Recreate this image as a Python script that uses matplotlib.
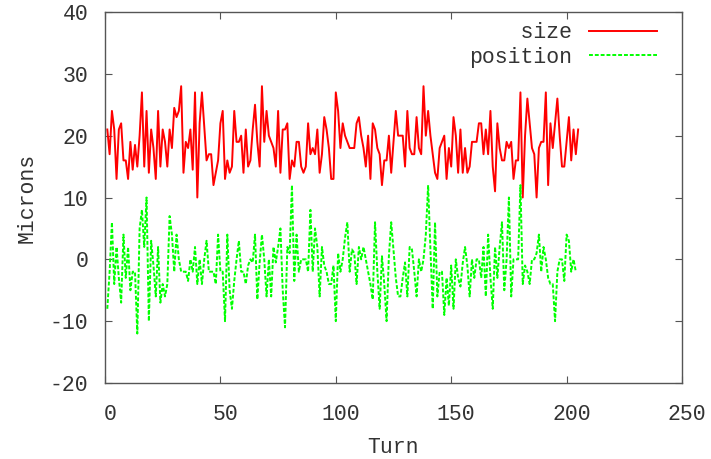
import numpy as np
import matplotlib
matplotlib.use("Agg")
import matplotlib.pyplot as plt
import matplotlib.transforms as mtransforms

# Data (one value per turn)

size_vals = [
    21, 17, 24, 21, 13, 21, 22, 16, 16, 13, 19, 14.5, 18.5, 15, 20, 27, 15, 24, 14, 21,
    18, 13, 24, 15, 21, 19, 15, 21, 18, 24.5, 23, 24, 28, 14, 19, 18, 21, 14.5, 27, 10,
    22, 27, 21.5, 16, 17, 17, 12, 14, 16, 22, 24, 13, 16, 14, 15, 24, 19, 19, 20, 14,
    21, 15, 16, 21, 25, 19, 15, 28, 19, 24, 20, 19, 18, 15, 24, 14, 21, 21, 22, 13,
    16, 15, 19, 19, 15, 14, 15, 22, 17, 18, 17, 21, 14, 17, 23, 21, 18, 13, 13, 27,
    24, 18, 22, 20, 19, 18, 18, 18, 22, 23, 20, 18, 15, 20, 13, 22, 21, 18, 17, 12,
    16, 16, 20, 14, 19, 24, 20, 20, 20, 15, 24, 18, 17, 17, 23, 18, 17, 28, 20, 24,
    20, 17, 14, 13, 18, 19, 20, 13, 18, 15, 23, 20, 14, 21, 14, 18, 14, 15, 19, 19,
    19, 22, 22, 17, 21, 17, 24, 15, 11, 22, 18, 16, 16, 19, 18, 19, 13, 16, 16, 27,
    10, 20, 26, 22, 18, 17, 10, 18, 19, 19, 27, 12, 22, 18, 22, 26, 20, 15, 15, 19,
    23, 16, 21, 17, 21,
]

position_vals = [
    -8, -2, 6, -4, 2, -3, -7, 4, -3, 2, -5, -2, -2, -12, 5, 8, 2, 10, -10, 3,
    -1, -6, 2, -7, -4, -6, -4, 7, 4, -2, 4, 0, -2, -2, -2, -3.5, 0, -2, 2, -4,
    0, -4, 0, 3, -2, -2, -2, -4, 4, -2, -2, -10, 4, -5, -8, -3.5, 0, 3, -2, -2,
    -4, -1, 0, -0.5, 4, -6.5, -0.5, 4, 0, -6, 0, -6, 2, -0.5, 2, 5, -5, -11, 2, 1,
    12, -3.5, 4, -2, 0, 0, 0, -2, 8, -2, 5, 2, -6, 2, -1, -2, -4, -4, -1, -10,
    1, -2, 0, 3.5, 6, -2, 1.6, 1, -4, 2, 0, 2, 0, -2, -4, -6.5, 6, -2, -8, 0.5,
    -4, -10, 0.5, 6, 1.6, -3, -6, -6, -3, -0.5, -6, 2, 1.6, -2, -6, 0, -2, 0, 4, 12,
    1.6, -8, 6, -6, -2, -2, -9, -3, -7.5, -1, -8, 0, -3, -4.4, -0.6, 2, -1, -6, 0, -3,
    0, 0, -3, 2, -6, 4, -3, -8, 2, -3, 2, 6, -5, 0, 10, -6, 0, 0, 0, 12,
    -4, -1, -2, -4, 0, 0, 1, 4, -2, 2, 0, -3, -4, -4, -10, -2, 0, 0, -3.5, 4,
    3, -2, 0, -2,
]

size_turns = np.arange(1, len(size_vals) + 1)
position_turns = np.arange(1, len(position_vals) + 1)

x_ticks = [0, 50, 100, 150, 200, 250]
y_ticks = [-20, -10, 0, 10, 20, 30, 40]

# Plot (gnuplot look)

FONT = "Liberation Mono"
FS = 15.5
TEXT_COLOR = "#333333"
FRAME_COLOR = "#555555"

plt.rcParams["axes.unicode_minus"] = False

fig = plt.figure(figsize=(7.11, 4.59), dpi=100)
ax = fig.add_axes([105 / 711, 1 - 383 / 459, 577 / 711, 371 / 459])

ax.plot(size_turns, size_vals, color="#ff0000", lw=1.4, label="    size")
ax.plot(position_turns, position_vals, color="#00ff00", lw=1.4,
        dashes=(2, 1), label="position")

ax.set_xlim(0, 250)
ax.set_ylim(-20, 40)
ax.set_xticks(x_ticks)
ax.set_yticks(y_ticks)

for side in ax.spines.values():
    side.set_color(FRAME_COLOR)
    side.set_linewidth(1.0)

ax.tick_params(direction="in", length=5, width=0.8, color=FRAME_COLOR,
               top=True, right=True, labelsize=FS, labelcolor=TEXT_COLOR)
ax.tick_params(axis="x", pad=15)
ax.tick_params(axis="y", pad=12)
for lbl in ax.get_xticklabels() + ax.get_yticklabels():
    lbl.set_fontfamily(FONT)

# gnuplot puts x tick labels a bit to the right of the tick
shift = mtransforms.ScaledTranslation(5 / 100, 0, fig.dpi_scale_trans)
for lbl in ax.get_xticklabels():
    lbl.set_transform(lbl.get_transform() + shift)

ax.set_xlabel("Turn", fontsize=FS, family=FONT, color=TEXT_COLOR, labelpad=9)
ax.set_ylabel("Microns", fontsize=FS, family=FONT, color=TEXT_COLOR, labelpad=9)

leg = ax.legend(loc="upper right", bbox_to_anchor=(552 / 577, 0.972),
                frameon=False, markerfirst=False, handlelength=3.15,
                handletextpad=0.8, borderpad=0, borderaxespad=0,
                labelspacing=0.15, prop={"family": FONT, "size": FS})
for t in leg.get_texts():
    t.set_color(TEXT_COLOR)

fig.savefig("out.png", dpi=100)
